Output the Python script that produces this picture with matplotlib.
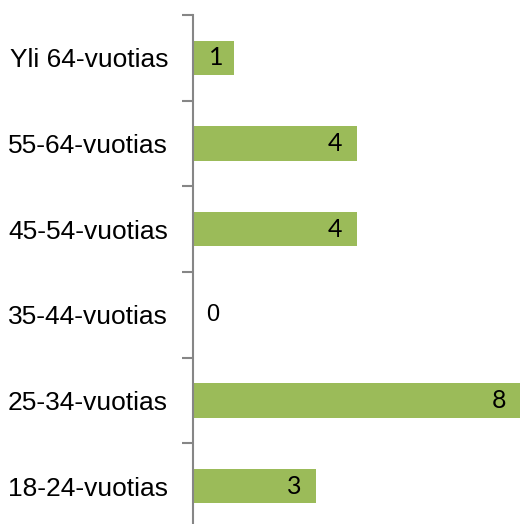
import matplotlib
matplotlib.use('Agg')
import matplotlib.pyplot as plt
import numpy as np

categories = ['18-24-vuotias', '25-34-vuotias', '35-44-vuotias',
              '45-54-vuotias', '55-64-vuotias', 'Yli 64-vuotias']
values = [3, 8, 0, 4, 4, 1]

bar_color = '#9BBB59'
axis_color = '#868686'

fig = plt.figure(figsize=(5.2, 5.24), dpi=100)
# plot area: x from 193px to 520px, y from 15px (top) to ~529px (just past the bottom)
left, right = 193 / 520, 520 / 520
top, bottom = 1 - 15 / 524, 1 - 529 / 524
ax = fig.add_axes([left, bottom, right - left, top - bottom])

y = np.arange(len(categories))
ax.barh(y, values, height=0.4, color=bar_color, zorder=2)

ax.set_xlim(0, 7.98)
ax.set_ylim(-0.5, len(categories) - 0.5)

for spine in ['top', 'right', 'bottom']:
    ax.spines[spine].set_visible(False)
ax.spines['left'].set_color(axis_color)
ax.spines['left'].set_linewidth(1.5)

ax.set_xticks([])
ax.set_yticks(y)
ax.set_yticklabels(categories, fontsize=19, family='Liberation Sans')
ax.tick_params(axis='y', which='major', length=0, pad=18)
ax.set_yticks(np.arange(len(categories) + 1) - 0.5, minor=True)
ax.tick_params(axis='y', which='minor', length=8, width=1.5,
               color=axis_color, direction='out')

for yi, v in zip(y, values):
    if v > 0:
        # inside-end label; short bars keep it a bit nearer the end
        off = -18 if v == 1 else -22
        ax.annotate(str(v), (v, yi), xytext=(off, 0), textcoords='offset pixels',
                    ha='center', va='center', fontsize=18, family='Lato',
                    annotation_clip=False, zorder=5)
    else:
        ax.annotate(str(v), (v, yi), xytext=(20, 0), textcoords='offset pixels',
                    ha='center', va='center', fontsize=17, family='Liberation Sans',
                    annotation_clip=False, zorder=5)

fig.savefig('out.png', dpi=100)
